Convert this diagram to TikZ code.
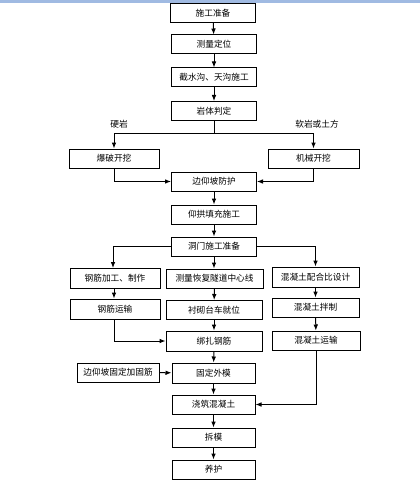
\documentclass[tikz,border=0pt]{standalone}
\usepackage{fontspec}
\newfontfamily\cjk{Noto Sans CJK SC}
\usetikzlibrary{arrows.meta}

\tikzset{every picture/.style={line width=0.75pt}}
\tikzset{
  stepbox/.style={draw, fill=white, inner sep=0pt, minimum height=19*0.75pt, font=\cjk\fontsize{6.5}{7}\selectfont},
  midbox/.style={stepbox, minimum width=85*0.75pt},
  sidebox/.style={stepbox, minimum width=90*0.75pt},
  lbl/.style={inner sep=0.75pt, font=\cjk\fontsize{6.5}{7}\selectfont},
  arr/.style={-{Latex[length=4.5pt,width=3.5pt]}}
}

\begin{document}
\begin{tikzpicture}[x=0.75pt,y=0.75pt,yscale=-1,xscale=1]
    \useasboundingbox (0,0) rectangle (420,481);
    %ruler strip at top
    \fill [color={rgb, 255:red, 160; green, 186; blue, 226 }] (0,0) rectangle (420,3);

    %main column
    \node [midbox] (zhunbei) at (213,13) {施工准备};
    \node [midbox] (dingwei) at (214,44.5) {测量定位};
    \node [midbox] (jieshui) at (214,77.5) {截水沟、天沟施工};
    \node [midbox] (panding) at (214,111) {岩体判定};
    \node [sidebox] (baopo) at (114,158.5) {爆破开挖};
    \node [sidebox, minimum width=91*0.75pt] (jixie) at (313.5,158.5) {机械开挖};
    \node [midbox] (fanghu) at (214,181.5) {边仰坡防护};
    \node [midbox] (yanggong) at (214,214.5) {仰拱填充施工};
    \node [midbox] (dongmen) at (214,246.5) {洞门施工准备};

    %three branches
    \node [sidebox, minimum height=20*0.75pt] (jiagong) at (115,278.5) {钢筋加工、制作};
    \node [stepbox, minimum width=97*0.75pt] (huifu) at (214.5,278.5) {测量恢复隧道中心线};
    \node [stepbox, minimum width=87*0.75pt, minimum height=20*0.75pt] (peihe) at (315.5,277) {混凝土配合比设计};
    \node [sidebox, minimum height=20*0.75pt] (yunshu) at (115,309) {钢筋运输};
    \node [stepbox, minimum width=96*0.75pt] (taiche) at (214,310) {衬砌台车就位};
    \node [stepbox, minimum width=87*0.75pt] (banzhi) at (315.5,307.5) {混凝土拌制};
    \node [stepbox, minimum width=96*0.75pt, minimum height=20*0.75pt] (bangza) at (214,341) {绑扎钢筋};
    \node [stepbox, minimum width=88*0.75pt] (hntyunshu) at (316,340.5) {混凝土运输};
    \node [stepbox, minimum width=82*0.75pt] (jiagu) at (118,372.5) {边仰坡固定加固筋};
    \node [midbox, minimum width=83*0.75pt, minimum height=20*0.75pt] (waimo) at (213.5,373) {固定外模};
    \node [midbox, minimum width=83*0.75pt] (jiaozhu) at (213.5,404.5) {浇筑混凝土};
    \node [midbox, minimum width=83*0.75pt] (chaimo) at (213.5,437.5) {拆模};
    \node [midbox, minimum width=83*0.75pt] (yanghu) at (213.5,469.5) {养护};

    % Text Node
    \node [lbl] (yingyan) at (119,124) {硬岩};
    % Text Node
    \node [lbl] (ruanyan) at (317,124) {软岩或土方};

    \coordinate (fencha) at (214,134);

    %connectors
    \draw [arr] (zhunbei) -- (dingwei);
    \draw [arr] (dingwei) -- (jieshui);
    \draw [arr] (jieshui) -- (panding);
    \draw (panding) -- (fencha);
    \draw [arr] (fencha) -| (baopo);
    \draw [arr] (fencha) -| (jixie);
    \draw [arr] (baopo) |- (fanghu);
    \draw [arr] (jixie) |- (fanghu);
    \draw [arr] (fanghu) -- (yanggong);
    \draw [arr] (yanggong) -- (dongmen);
    \draw [arr] (dongmen.west) -| (jiagong.north -| 113,0);
    \draw [arr] (dongmen) -- (huifu.north -| dongmen);
    \draw [arr] (dongmen.east) -| (peihe);
    \draw [arr] (jiagong.south -| 114,0) -- (yunshu.north -| 114,0);
    \draw [arr] (huifu) -- (taiche);
    \draw [arr] (peihe) -- (banzhi);
    \draw [arr] (banzhi) -- (hntyunshu);
    \draw [arr] (yunshu.south -| 114,0) |- (bangza);
    \draw [arr] (taiche) -- (bangza);
    \draw [arr] (bangza) -- (waimo);
    \draw [arr] (jiagu) -- (waimo);
    \draw [arr] (hntyunshu) |- (jiaozhu);
    \draw [arr] (waimo) -- (jiaozhu);
    \draw [arr] (jiaozhu) -- (chaimo);
    \draw [arr] (chaimo) -- (yanghu);

\end{tikzpicture}
\end{document}
